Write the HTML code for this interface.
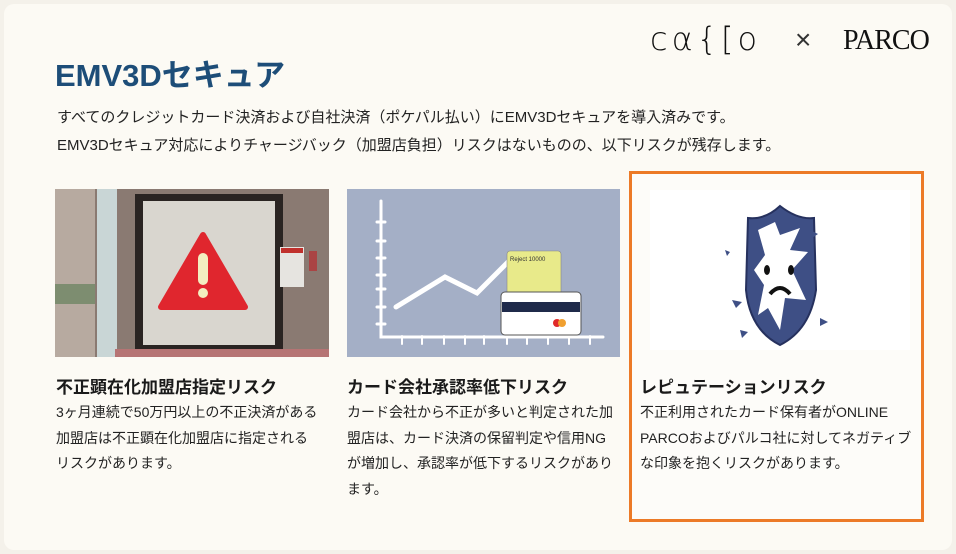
<!DOCTYPE html>
<html><head><meta charset="utf-8"><style>
body{margin:0;width:956px;height:554px;background:#f4f1ea;overflow:hidden;font-family:"Liberation Sans","Noto Sans CJK JP",sans-serif;position:relative}
.bg{position:absolute;left:4px;top:4px;width:948px;height:546px;background:#fcfaf4;border-radius:10px}
.a{position:absolute}
h1{position:absolute;left:55px;top:50px;margin:0;font-size:31px;font-weight:bold;color:#1d4d78}
.p{position:absolute;left:57px;font-size:15px;color:#222;white-space:nowrap}
.h{position:absolute;font-size:17px;font-weight:bold;color:#1a1a1a;white-space:nowrap}
.t{position:absolute;font-size:14px;line-height:25.5px;color:#222;white-space:nowrap}
</style></head><body>
<div class="bg"></div>
<div class="a" style="left:650px;top:20px;font-family:'DejaVu Sans',sans-serif;font-weight:200;font-size:32px;letter-spacing:4px;color:#111">cα{[o</div>
<div class="a" style="left:795px;top:24px;font-size:28px;color:#333">×</div>
<div class="a" style="left:843px;top:25px;font-family:'Liberation Serif',serif;font-size:28px;color:#111;letter-spacing:-1px">PARCO</div>
<h1>EMV3Dセキュア</h1>
<div class="p" style="top:106px">すべてのクレジットカード決済および自社決済（ポケパル払い）にEMV3Dセキュアを導入済みです。</div>
<div class="p" style="top:134px">EMV3Dセキュア対応によりチャージバック（加盟店負担）リスクはないものの、以下リスクが残存します。</div>

<svg class="a" style="left:55px;top:189px" width="274" height="168" viewBox="0 0 274 168">
<rect width="274" height="168" fill="#8a7a72"/>
<rect x="0" y="0" width="40" height="168" fill="#b7aaa0"/>
<rect x="42" y="0" width="20" height="168" fill="#c9d6d6"/>
<rect x="0" y="95" width="40" height="20" fill="#7d8d70"/>
<rect x="80" y="5" width="148" height="158" fill="#2a2422"/>
<rect x="88" y="12" width="132" height="144" fill="#d9d6cf"/>
<rect x="60" y="160" width="220" height="8" fill="#b67474"/>
<polygon points="148,46 190,118 106,118" fill="#e0262e" stroke="#e0262e" stroke-width="6" stroke-linejoin="round"/>
<rect x="143" y="64" width="10" height="32" rx="5" fill="#f3eec0"/>
<circle cx="148" cy="104" r="5" fill="#f3eec0"/>
<rect x="225" y="58" width="24" height="40" fill="#e6e4e0"/>
<rect x="226" y="59" width="22" height="5" fill="#c0302c"/>
<rect x="254" y="62" width="8" height="20" fill="#a44"/>
</svg>

<svg class="a" style="left:347px;top:189px" width="273" height="168" viewBox="0 0 273 168">
<rect width="273" height="168" fill="#a4afc6"/>
<g stroke="#fff" stroke-width="3" fill="none" stroke-linecap="round">
<path d="M34 12 V148 H256"/>
<path d="M30 33h8M30 52h8M30 69h8M30 86h8M30 100h8M30 118h8M30 135h8"/>
<path d="M55 147v8M75 147v8M97 147v8M118 147v8M137 147v8M160 147v8M180 147v8M201 147v8M222 147v8M243 147v8" stroke-width="2"/>
<path d="M49 118 L98 88 L130 104 L164 70" stroke-width="5"/>
</g>
<rect x="160" y="62" width="54" height="46" rx="3" fill="#e8ea8a" stroke="#888" stroke-width="0.6"/>
<text x="163" y="72" font-size="6" fill="#333" font-family="Liberation Sans">Reject  10000</text>
<rect x="154" y="103" width="80" height="43" rx="4" fill="#fff" stroke="#555" stroke-width="1"/>
<rect x="155" y="113" width="78" height="10" fill="#1f2a4a"/>
<circle cx="210" cy="134" r="4" fill="#e02a2a"/><circle cx="215" cy="134" r="4" fill="#f0a030"/>
</svg>

<div class="a" style="left:629px;top:171px;width:289px;height:345px;border:3px solid #ec7a27;background:#fdfcf9"></div>
<svg class="a" style="left:650px;top:190px" width="260" height="160" viewBox="0 0 260 160">
<rect width="260" height="160" fill="#fff"/>
<path d="M98 28 Q115 30 130 16 Q148 30 164 28 L166 100 Q160 140 130 155 Q100 140 96 100 Z" fill="#3e4f85" stroke="#26315e" stroke-width="2"/>
<path d="M108 40 L125 32 L130 45 L150 38 L140 60 L158 62 L142 80 L156 110 L135 108 L130 140 L118 118 L108 125 L114 95 L104 80 L115 65 Z" fill="#fff"/>
<ellipse cx="117" cy="80" rx="3" ry="5" fill="#111"/><ellipse cx="141" cy="80" rx="3" ry="5" fill="#111"/>
<path d="M120 104 Q130 92 140 104" stroke="#111" stroke-width="4" fill="none"/>
<g fill="#3e4f85"><polygon points="82,110 92,112 86,118"/><polygon points="170,128 178,132 170,136"/><polygon points="90,140 98,142 92,148"/><polygon points="160,40 168,44 162,48"/><polygon points="75,60 80,62 77,66"/></g>
</svg>

<div class="h" style="left:56px;top:373px">不正顕在化加盟店指定リスク</div>
<div class="t" style="left:56px;top:400px">3ヶ月連続で50万円以上の不正決済がある<br>加盟店は不正顕在化加盟店に指定される<br>リスクがあります。</div>
<div class="h" style="left:347px;top:373px">カード会社承認率低下リスク</div>
<div class="t" style="left:347px;top:400px">カード会社から不正が多いと判定された加<br>盟店は、カード決済の保留判定や信用NG<br>が増加し、承認率が低下するリスクがあり<br>ます。</div>
<div class="h" style="left:640px;top:373px">レピュテーションリスク</div>
<div class="t" style="left:640px;top:400px">不正利用されたカード保有者がONLINE<br>PARCOおよびパルコ社に対してネガティブ<br>な印象を抱くリスクがあります。</div>
</body></html>
